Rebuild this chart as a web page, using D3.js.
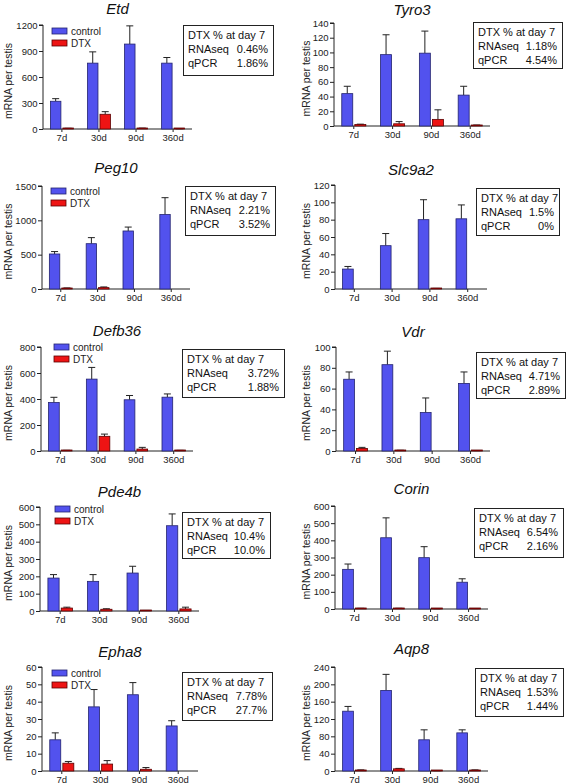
<!DOCTYPE html>
<html><head><meta charset="utf-8">
<script src="https://cdn.jsdelivr.net/npm/d3@7"></script>
<style>
html,body{margin:0;padding:0;background:#fff;}
svg{display:block;font-family:"Liberation Sans",Arial,sans-serif;}
</style></head>
<body>
<svg id="chart" width="567" height="784"></svg>
<script>
// ---------- DATA ----------
const categories = ["7d", "30d", "90d", "360d"];
const genes = ["Etd", "Tyro3", "Peg10", "Slc9a2", "Defb36", "Vdr", "Pde4b", "Corin", "Epha8", "Aqp8"];
const seriesNames = ["control", "DTX"];

const controlMeans = [
  [320, 760, 980, 760],
  [44, 97, 99, 42],
  [510, 660, 845, 1085],
  [23, 50, 80, 81],
  [373, 553, 394, 414],
  [69, 83, 37, 65],
  [190, 171, 219, 492],
  [231, 415, 299, 156],
  [18, 37, 44, 26],
  [138, 186, 72, 88]
];
const controlErrors = [
  [30, 130, 210, 65],
  [10, 27, 30, 12],
  [35, 88, 57, 245],
  [3, 14, 23, 16],
  [40, 90, 33, 25],
  [7, 13, 14, 11],
  [20, 39, 39, 68],
  [31, 116, 64, 20],
  [4, 10, 7, 3],
  [11, 37, 23, 7]
];
const dtxMeans = [
  [5, 170, 6, 2],
  [2, 3, 9, 1],
  [10, 20, 0, 0],
  [0, 0, 0.4, 0],
  [3, 113, 15, 3],
  [2.5, 0.5, 0, 0.3],
  [17, 10, 2, 12],
  [3, 3, 1, 2],
  [4.5, 4, 1, 0],
  [2, 5, 0.5, 2]
];
const dtxErrors = [
  [3, 30, 4, 1],
  [0.5, 3, 13, 0.3],
  [5, 10, 0, 0],
  [0, 0, 0.3, 0],
  [2, 17, 13, 2],
  [1, 0.2, 0, 0.1],
  [5, 3, 1, 10],
  [1, 1, 0.5, 0.5],
  [1, 2, 1, 0],
  [0.5, 1, 0.2, 0.5]
];
const yMaxes = [1200, 140, 1500, 120, 800, 100, 600, 600, 60, 240];
const yTickSteps = [300, 20, 500, 20, 200, 20, 100, 100, 10, 40];
const rnaseqPct = ["0.46%", "1.18%", "2.21%", "1.5%", "3.72%", "4.71%", "10.4%", "6.54%", "7.78%", "1.53%"];
const qpcrPct = ["1.86%", "4.54%", "3.52%", "0%", "1.88%", "2.89%", "10.0%", "2.16%", "27.7%", "1.44%"];
const showLegend = [true, false, true, false, true, false, true, false, true, false];

// ---------- LAYOUT (pixels) ----------
const layout = [
  {x0: 43, x1: 192, yT: 25, yB: 129, tY: 14, box: [183, 25, 90, 50], leg: [52, 31]},
  {x0: 334, x1: 490, yT: 23, yB: 126, tY: 15, box: [473, 22, 89, 46]},
  {x0: 42, x1: 190, yT: 186, yB: 289, tY: 173, box: [185, 186, 90, 49], leg: [51, 191]},
  {x0: 335, x1: 487, yT: 185, yB: 289, tY: 175, box: [476, 188, 83, 47]},
  {x0: 41, x1: 193, yT: 347, yB: 451, tY: 336, box: [182, 349, 102, 48], leg: [54, 347]},
  {x0: 336, x1: 490, yT: 347, yB: 451, tY: 337, box: [476, 352, 89, 46]},
  {x0: 40, x1: 199, yT: 507, yB: 611, tY: 497, box: [182, 512, 88, 46], leg: [55, 509]},
  {x0: 335, x1: 488, yT: 506, yB: 609, tY: 494, box: [474, 508, 89, 49]},
  {x0: 42, x1: 198, yT: 667, yB: 771, tY: 657, box: [182, 672, 90, 48], leg: [52, 673]},
  {x0: 335, x1: 488, yT: 667, yB: 771, tY: 654, box: [475, 668, 88, 48]}
];

const colors = {control: "#5252ee", DTX: "#ee1414"};
const strokes = {control: "#23236e", DTX: "#5a0000"};

const svg = d3.select("#chart");

genes.forEach((gene, gi) => {
  const L = layout[gi];
  const g = svg.append("g");
  const x = d3.scaleBand().domain(categories).range([L.x0, L.x1])
    .paddingInner(0.38).paddingOuter(0.2);
  const xs = d3.scaleBand().domain(seriesNames).range([0, x.bandwidth()]).paddingInner(0.16);
  const y = d3.scaleLinear().domain([0, yMaxes[gi]]).range([L.yB, L.yT]);
  const ticks = d3.range(0, yMaxes[gi] + 1e-9, yTickSteps[gi]);

  // Title
  g.append("text").attr("x", (L.x0 + L.x1) / 2).attr("y", L.tY)
    .attr("text-anchor", "middle").attr("font-size", 15).attr("font-style", "italic")
    .attr("fill", "#111").text(gene);

  // Y axis
  const yAxis = d3.axisLeft(y).tickValues(ticks).tickSize(4).tickPadding(1.5).tickFormat(d3.format("d"));
  const ya = g.append("g").attr("transform", `translate(${L.x0},0)`).call(yAxis);
  ya.select(".domain").attr("stroke", "#222").attr("d", `M-4,${L.yT}H0V${L.yB}`);
  ya.selectAll(".tick line").attr("stroke", "#222");
  ya.selectAll(".tick text").attr("font-size", 9.5).attr("fill", "#222")
    .attr("font-family", "Liberation Sans, Arial, sans-serif");

  // X axis
  const xAxis = d3.axisBottom(x).tickSize(3).tickPadding(2);
  const xa = g.append("g").attr("transform", `translate(0,${L.yB})`).call(xAxis);
  xa.select(".domain").attr("stroke", "#222").attr("d", `M${L.x0},0H${L.x1}`);
  xa.selectAll(".tick line").attr("stroke", "#222");
  xa.selectAll(".tick text").attr("font-size", 9.5).attr("fill", "#222")
    .attr("font-family", "Liberation Sans, Arial, sans-serif");

  // Y label
  const leftSide = gi % 2 === 0;
  g.append("text")
    .attr("transform", `translate(${leftSide ? 12 : 310},${(L.yT + L.yB) / 2 + 4}) rotate(-90)`)
    .attr("text-anchor", "middle").attr("font-size", 10.5).attr("fill", "#222")
    .text("mRNA per testis");

  // Bars
  const series = [
    {name: "control", means: controlMeans[gi], errs: controlErrors[gi]},
    {name: "DTX", means: dtxMeans[gi], errs: dtxErrors[gi]}
  ];
  series.forEach(s => {
    categories.forEach((c, ci) => {
      const bx = x(c) + xs(s.name);
      const bw = xs.bandwidth();
      const m = s.means[ci];
      const e = s.errs[ci];
      if (m <= 0) return;
      const cx = bx + bw / 2;
      if (e > 0) {
        g.append("line").attr("x1", cx).attr("x2", cx)
          .attr("y1", y(m)).attr("y2", y(m + e)).attr("stroke", "#222").attr("stroke-width", 1);
        g.append("line").attr("x1", cx - 3.5).attr("x2", cx + 3.5)
          .attr("y1", y(m + e)).attr("y2", y(m + e)).attr("stroke", "#222").attr("stroke-width", 1);
      }
      const top = y(m);
      const h = Math.max(y(0) - top, 1);
      g.append("rect").attr("x", bx).attr("y", y(0) - h).attr("width", bw).attr("height", h)
        .attr("fill", colors[s.name]).attr("stroke", strokes[s.name]).attr("stroke-width", 0.8);
    });
  });

  // Legend
  if (showLegend[gi]) {
    seriesNames.forEach((sn, si) => {
      const lx = L.leg[0], ly = L.leg[1] + si * 12;
      g.append("rect").attr("x", lx).attr("y", ly - 3).attr("width", 15).attr("height", 6)
        .attr("fill", colors[sn]).attr("stroke", strokes[sn]).attr("stroke-width", 0.8);
      g.append("text").attr("x", lx + 19).attr("y", ly + 3.5).attr("font-size", 10)
        .attr("fill", "#222").text(sn);
    });
  }

  // Info box
  const [bxp, byp, bwp, bhp] = L.box;
  g.append("rect").attr("x", bxp + 0.5).attr("y", byp + 0.5).attr("width", bwp).attr("height", bhp)
    .attr("fill", "#fff").attr("stroke", "#222").attr("stroke-width", 1);
  const rows = [["DTX % at day 7", ""], ["RNAseq", rnaseqPct[gi]], ["qPCR", qpcrPct[gi]]];
  rows.forEach((r, ri) => {
    const ty = byp + 14 + ri * 14;
    g.append("text").attr("x", bxp + 5).attr("y", ty).attr("font-size", 11).attr("fill", "#111").text(r[0]);
    if (r[1]) {
      g.append("text").attr("x", bxp + bwp - 5).attr("y", ty).attr("text-anchor", "end")
        .attr("font-size", 11).attr("fill", "#111").text(r[1]);
    }
  });
});
</script>
</body></html>
